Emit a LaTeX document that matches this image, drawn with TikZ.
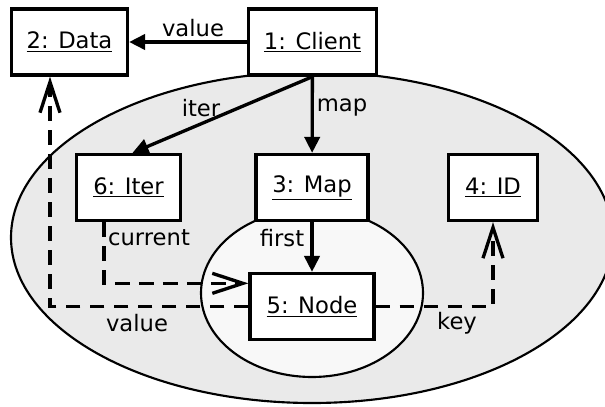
\documentclass[tikz,border=0pt]{standalone}
\usepackage{fontspec}
\setmainfont{DejaVu Sans}
\usetikzlibrary{arrows.meta,shapes.geometric,calc}

\tikzset{every picture/.style={line width=2.5pt}}
\tikzset{
  obj/.style={draw, fill=white, line width=2.5pt, minimum height=49.5pt, inner sep=0pt},
  region/.style={draw, ellipse, line width=1.6pt, inner sep=0pt},
  solidarrow/.style={-{Triangle[length=12pt,width=11.5pt]}},
  dasharrow/.style={-{Straight Barb[length=23pt,width=15pt]}, dash pattern=on 11pt off 7pt},
  lbl/.style={inner sep=0.75pt}
}

\begin{document}
\begin{tikzpicture}[x=0.75pt,y=0.75pt,yscale=-1,xscale=1,font=\fontsize{17}{20}\selectfont]
	\useasboundingbox (0,0) rectangle (605,406);
	%Shape: Ellipse [id:heap]
	\node [region, fill={rgb,255:red,234;green,234;blue,234}, minimum width=451.5pt, minimum height=248.25pt] (heap) at (312,237.5) {};
	%Shape: Ellipse [id:chain]
	\node [region, fill={rgb,255:red,248;green,248;blue,248}, minimum width=166.5pt, minimum height=126pt] (chain) at (312,293) {};

	%Shape: Rectangle [id:data]
	\node [obj, minimum width=87pt] (data) at (69.5,42) {\underline{2: Data}};
	%Shape: Rectangle [id:client]
	\node [obj, minimum width=96pt] (client) at (312.5,42) {\underline{1: Client}};
	%Shape: Rectangle [id:iter]
	\node [obj, minimum width=78pt] (iter) at (128.5,187.5) {\underline{6: Iter}};
	%Shape: Rectangle [id:map]
	\node [obj, minimum width=84pt] (map) at (312,187.5) {\underline{3: Map}};
	%Shape: Rectangle [id:id]
	\node [obj, minimum width=66.75pt] (id) at (493,187.5) {\underline{4: ID}};
	%Shape: Rectangle [id:node]
	\node [obj, minimum width=93pt] (node) at (312,306.5) {\underline{5: Node}};

	%Straight Lines [id:clientdata]
	\draw [solidarrow] (client) -- (data);
	%Straight Lines [id:clientiter]
	\draw [solidarrow] (client.south) -- ($(iter.north)+(4,0)$);
	%Straight Lines [id:clientmap]
	\draw [solidarrow] (client) -- (map);
	%Straight Lines [id:mapnode]
	\draw [solidarrow] (map) -- (node);
	%Straight Lines [id:iternode]
	\draw [dasharrow] ($(iter.south)+(-24.5,0)$) |- (node.160);
	%Straight Lines [id:nodedata]
	\draw [dasharrow] (node.west) -| ($(data.south)+(-19.5,0)$);
	%Straight Lines [id:nodeid]
	\draw [dasharrow] (node.east) -| (id.south);

	% Text Node
	\node [lbl] (lvalue) at (193,28) {value};
	% Text Node
	\node [lbl] (liter) at (201,108) {iter};
	% Text Node
	\node [lbl] (lmap) at (342,108) {map};
	% Text Node
	\node [lbl] (lfirst) at (282,238) {first};
	% Text Node
	\node [lbl] (lcurrent) at (149,238) {current};
	% Text Node
	\node [lbl] (lnvalue) at (137,323) {value};
	% Text Node
	\node [lbl] (lkey) at (457,323) {key};
\end{tikzpicture}
\end{document}
